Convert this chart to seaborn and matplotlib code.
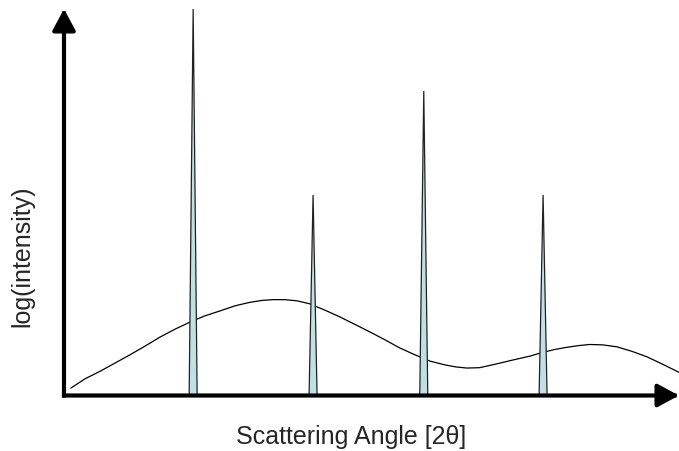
import numpy as np
import pandas as pd
import seaborn as sns
import matplotlib.pyplot as plt

# amorphous background hump
hump_x = [1.1, 3.4, 5.9, 8.3, 10.7, 13.2, 15.6, 18.1, 20.5, 22.9, 25.4, 27.8,
          30.2, 32.2, 34.0, 35.9, 37.9, 40.0, 42.4, 44.9, 47.3, 49.8, 52.2, 54.6,
          57.1, 59.5, 62.0, 63.7, 65.5, 67.6, 70.4, 73.3, 75.8, 77.7, 79.8, 81.5,
          83.6, 85.5, 87.6, 89.9, 92.4, 94.8, 97.2, 100.0]
hump_y = [1.9, 4.3, 6.3, 8.4, 10.5, 12.8, 15.1, 17.2, 19.0, 20.6, 21.9, 23.2,
          24.1, 24.6, 24.8, 24.8, 24.5, 23.7, 22.1, 20.3, 18.4, 16.4, 14.4, 12.3,
          10.5, 8.9, 7.9, 7.4, 7.1, 7.2, 8.2, 9.3, 10.2, 11.1, 11.9, 12.4,
          12.9, 13.2, 13.1, 12.6, 11.4, 10.0, 8.2, 6.0]

# Bragg peaks
peak_pos = [21.0, 40.5, 58.5, 77.9]
peak_height = [100.0, 51.9, 78.8, 51.9]
peak_width = 1.3

hump = pd.DataFrame({"angle": hump_x, "intensity": hump_y})

sns.set_style("white")
plt.rcParams['font.family'] = ['Liberation Sans', 'DejaVu Sans']

fig = plt.figure(figsize=(6.79, 4.51), dpi=100)
ax = fig.add_axes([0, 0, 1, 1])
ax.set_xlim(-64 / 6.15, 100)
ax.set_ylim(-55.5 / 3.865, 395.5 / 3.865)
ax.axis("off")

sns.lineplot(data=hump, x="angle", y="intensity", ax=ax, color="black", lw=0.9, zorder=2)

for p, h in zip(peak_pos, peak_height):
    ax.fill([p - peak_width / 2, p, p + peak_width / 2], [0, h, 0],
            facecolor="#bfe1e5", edgecolor="#222222", lw=0.9, zorder=3)

# axes arrows
arrow = dict(arrowstyle="-|>,head_length=0.65,head_width=0.35", lw=3, color="black",
             mutation_scale=20, shrinkA=0, shrinkB=0, capstyle="projecting")
ax.annotate("", xy=(0, 100), xytext=(0, 0), arrowprops=arrow, zorder=5)
ax.annotate("", xy=(100, 0), xytext=(0, 0), arrowprops=arrow, zorder=5)

fig.text(351 / 679, 1 - 437 / 451, "Scattering Angle [2θ]", fontsize=18,
         ha="center", va="center")
fig.text(22 / 679, 1 - 256 / 451, "log(intensity)", fontsize=18,
         ha="center", va="center", rotation=90)

fig.savefig("out.png", dpi=100)
